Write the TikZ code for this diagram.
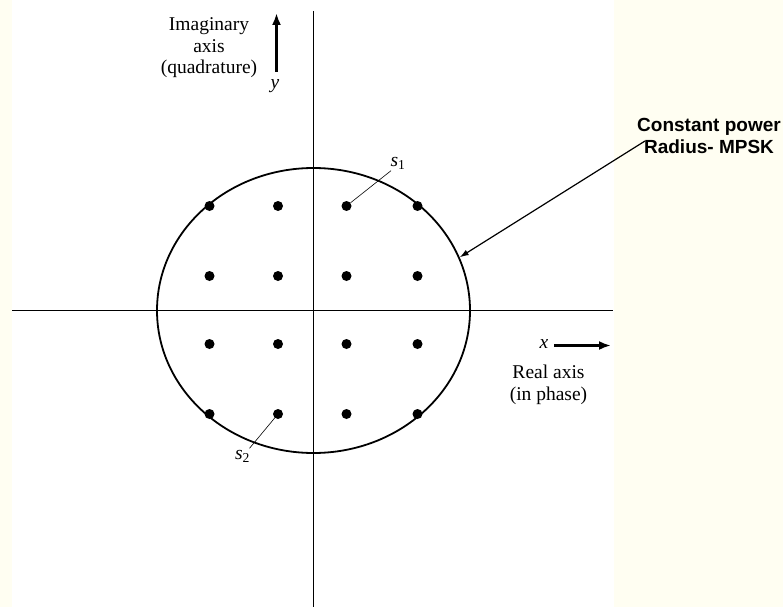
\documentclass[tikz,border=0pt]{standalone}
\usepackage{fontspec}
\setmainfont{Liberation Serif}
\newfontfamily\arialfont{Liberation Sans}
\usepackage{tikz}
\usetikzlibrary{shapes,arrows.meta,positioning,calc}
\usepackage{xcolor}
\definecolor{slidebg}{HTML}{FFFEF2}

\begin{document}
\begin{tikzpicture}[x=1pt, y=-1pt, every node/.style={font=\fontsize{19.5}{21.5}\selectfont},
    dot/.style={circle, fill=black, inner sep=0pt, minimum size=10pt},
    axis/.style={line width=1.1pt},
    leader/.style={line width=0.6pt},
    bigarrow/.style={-{Latex[length=12pt,width=9pt]}, line width=2.4pt}]
        \useasboundingbox (0,0) rectangle (783,607);
        \fill[slidebg] (0,0) rectangle (783,607);
        \fill[white] (12,0) rectangle (614,607);
        % axes
        \coordinate (ytop) at (313.5,11);
        \coordinate (ybot) at (313.5,607);
        \coordinate (xleft) at (12,310.5);
        \coordinate (xright) at (612.5,310.5);
        \draw[axis] (ytop) -- (ybot);
        \draw[axis] (xleft) -- (xright);
        \node[draw, ellipse, line width=1.8pt, inner sep=0pt, minimum width=313pt, minimum height=285pt] (circ) at (313.5,310.5) {};
        % constellation points
        \foreach \r/\yy in {1/206,2/276,3/344,4/414} {
            \foreach \c/\xx in {1/209.5,2/278,3/346.5,4/417.5} {
                \node[dot] (p\r\c) at (\xx,\yy) {};
            }
        }
        \node (s1) at (398,163) {\textit{s}\textsubscript{1}};
        \node (s2) at (242.5,456) {\textit{s}\textsubscript{2}};
        \draw[leader] ($(s1.south west)+(4,-2)$) -- (p13);
        \draw[leader] ($(s2.north east)+(-4,2)$) -- (p42);
        % axis labels
        \node[align=center] (imag) at (209,48) {Imaginary\\axis\\(quadrature)};
        \node (ylab) at (275,86) {\textit{y}};
        \coordinate (ya) at (276.5,72);
        \coordinate (yb) at (276.5,13);
        \draw[bigarrow] (ya) -- (yb);
        \node (xlab) at (544,344) {\textit{x}};
        \coordinate (xa) at (554,345.5);
        \coordinate (xb) at (611,345.5);
        \draw[bigarrow] (xa) -- (xb);
        \node[align=center] (real) at (548.5,385) {Real axis\\(in phase)};
        % annotation
        \node[align=center, font=\arialfont\bfseries\fontsize{19}{22}\selectfont] (cpow) at (709,136) {Constant power\\Radius- MPSK};
        \coordinate (cptail) at (645,141);
        \draw[-{Latex[length=9pt,width=6pt]}, line width=1.2pt] (cptail) -- (circ.20);
    \end{tikzpicture}
\end{document}
